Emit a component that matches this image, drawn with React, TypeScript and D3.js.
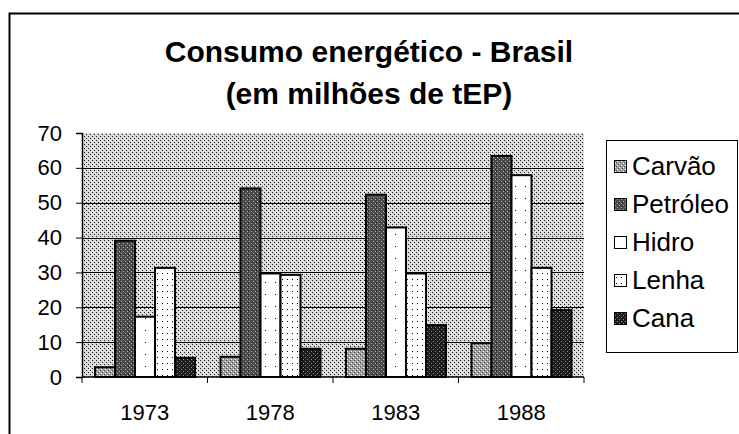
import React, { useEffect, useRef } from 'react';
import * as d3 from 'd3';

const years = ['1973', '1978', '1983', '1988'];
const sources = ['Carvão', 'Petróleo', 'Hidro', 'Lenha', 'Cana'];
const carvao = [2.8, 5.8, 8.1, 9.7];
const petroleo = [39.1, 54.1, 52.3, 63.4];
const hidro = [17.3, 29.7, 42.9, 57.9];
const lenha = [31.3, 29.3, 29.7, 31.3];
const cana = [5.5, 8.1, 14.9, 19.2];
const yTicks = [0, 10, 20, 30, 40, 50, 60, 70];
const titleLines = ['Consumo energético - Brasil', '(em milhões de tEP)'];

const seriesValues = [carvao, petroleo, hidro, lenha, cana];
const patternIds = ['p-carvao', 'p-petroleo', 'p-hidro', 'p-lenha', 'p-cana'];

const FONT = '"Liberation Sans", Arial, sans-serif';

const App = () => {
  const ref = useRef<SVGSVGElement | null>(null);

  useEffect(() => {
    const svg = d3.select(ref.current);
    svg.selectAll('*').remove();

    const left = 82, right = 584, top = 133, bottom = 377;

    // patterns
    const defs = svg.append('defs');
    const mkPattern = (id: string, w: number, h: number, base: string, dots: [number, number, string][]) => {
      const p = defs.append('pattern')
        .attr('id', id)
        .attr('patternUnits', 'userSpaceOnUse')
        .attr('width', w)
        .attr('height', h);
      p.append('rect').attr('width', w).attr('height', h).attr('fill', base);
      dots.forEach(([dx, dy, c]) => {
        p.append('rect').attr('x', dx).attr('y', dy).attr('width', 1).attr('height', 1).attr('fill', c);
      });
    };
    mkPattern('p-bg', 4, 4, '#d6d6d6', [[0, 0, '#222'], [2, 2, '#222'], [1, 3, '#f4f4f4'], [3, 1, '#f4f4f4']]);
    mkPattern('p-carvao', 4, 4, '#9c9c9c', [[1, 1, '#ffffff'], [3, 3, '#ffffff'], [0, 2, '#555'], [2, 0, '#555']]);
    mkPattern('p-petroleo', 4, 4, '#4c4c4c', [[1, 1, '#b0b0b0'], [3, 3, '#b0b0b0'], [0, 2, '#222']]);
    mkPattern('p-hidro', 10, 12, '#ffffff', [[5, 6, '#000']]);
    mkPattern('p-lenha', 5, 6, '#ffffff', [[2, 3, '#000']]);
    mkPattern('p-cana', 4, 4, '#1c1c1c', [[1, 1, '#8a8a8a'], [3, 3, '#8a8a8a']]);

    // outer frame
    svg.append('rect')
      .attr('x', 9.5).attr('y', 13.5)
      .attr('width', 760).attr('height', 450)
      .attr('fill', '#fff')
      .attr('stroke', '#000')
      .attr('stroke-width', 2);

    // title
    svg.append('text')
      .attr('text-anchor', 'middle')
      .attr('font-family', FONT)
      .attr('font-weight', 'bold')
      .attr('font-size', 30)
      .selectAll('tspan')
      .data(titleLines)
      .join('tspan')
      .attr('x', 369)
      .attr('y', (d, i) => 62 + i * 42)
      .text(d => d);

    const x = d3.scaleBand<string>().domain(years).range([left, right]).padding(0);
    const xs = d3.scaleBand<string>().domain(sources).range([13, x.bandwidth() - 12.5]).padding(0);
    const y = d3.scaleLinear().domain([0, 70]).range([bottom, top]);

    // plot background
    svg.append('rect')
      .attr('x', left).attr('y', top)
      .attr('width', right - left).attr('height', bottom - top)
      .attr('fill', 'url(#p-bg)');

    // grid lines
    svg.append('g')
      .selectAll('line')
      .data(yTicks.filter(t => t > 0 && t < 70))
      .join('line')
      .attr('x1', left).attr('x2', right)
      .attr('y1', d => Math.round(y(d)) + 0.5).attr('y2', d => Math.round(y(d)) + 0.5)
      .attr('stroke', '#000')
      .attr('stroke-width', 1);

    // bars
    sources.forEach((s, si) => {
      svg.append('g')
        .selectAll('rect')
        .data(seriesValues[si])
        .join('rect')
        .attr('x', (d, i) => (x(years[i]) as number) + (xs(s) as number))
        .attr('y', d => y(d))
        .attr('width', xs.bandwidth())
        .attr('height', d => bottom - y(d))
        .attr('fill', `url(#${patternIds[si]})`)
        .attr('stroke', '#000')
        .attr('stroke-width', 2);
    });

    // y axis
    const yAxis = svg.append('g')
      .attr('transform', `translate(${left},0)`)
      .call(d3.axisLeft(y).tickValues(yTicks).tickSize(6).tickPadding(14));
    yAxis.select('.domain').attr('stroke-width', 1.5);
    yAxis.selectAll('text')
      .attr('font-family', FONT)
      .attr('font-size', 22)
      .attr('fill', '#000');

    // x axis, ticks at category boundaries
    const xAxis = svg.append('g').attr('transform', `translate(0,${bottom})`);
    xAxis.append('line')
      .attr('x1', left).attr('x2', right)
      .attr('stroke', '#000').attr('stroke-width', 1.5);
    xAxis.selectAll('line.tk')
      .data([...years.map(yr => x(yr) as number), right])
      .join('line')
      .attr('class', 'tk')
      .attr('x1', d => d).attr('x2', d => d)
      .attr('y1', 0).attr('y2', 6)
      .attr('stroke', '#000');
    xAxis.selectAll('text')
      .data(years)
      .join('text')
      .attr('x', d => (x(d) as number) + x.bandwidth() / 2)
      .attr('y', 43)
      .attr('text-anchor', 'middle')
      .attr('font-family', FONT)
      .attr('font-size', 22)
      .text(d => d);

    // legend
    const lg = svg.append('g');
    lg.append('rect')
      .attr('x', 606.5).attr('y', 140.5)
      .attr('width', 131).attr('height', 212)
      .attr('fill', '#fff')
      .attr('stroke', '#000');
    const items = lg.selectAll('g.item')
      .data(sources)
      .join('g')
      .attr('class', 'item')
      .attr('transform', (d, i) => `translate(614,${166 + i * 38})`);
    items.append('rect')
      .attr('x', 0.5).attr('y', -5.5)
      .attr('width', 12).attr('height', 12)
      .attr('fill', (d, i) => `url(#${patternIds[i]})`)
      .attr('stroke', '#000');
    items.append('text')
      .attr('x', 18)
      .attr('y', 9)
      .attr('font-family', FONT)
      .attr('font-size', 26)
      .text(d => d);

    return () => {
      svg.selectAll('*').remove();
    };
  }, []);

  return (
    <svg
      ref={ref}
      width={739}
      height={434}
      style={{ position: 'absolute', left: 0, top: 0, background: '#fff' }}
    />
  );
};

export default App;
